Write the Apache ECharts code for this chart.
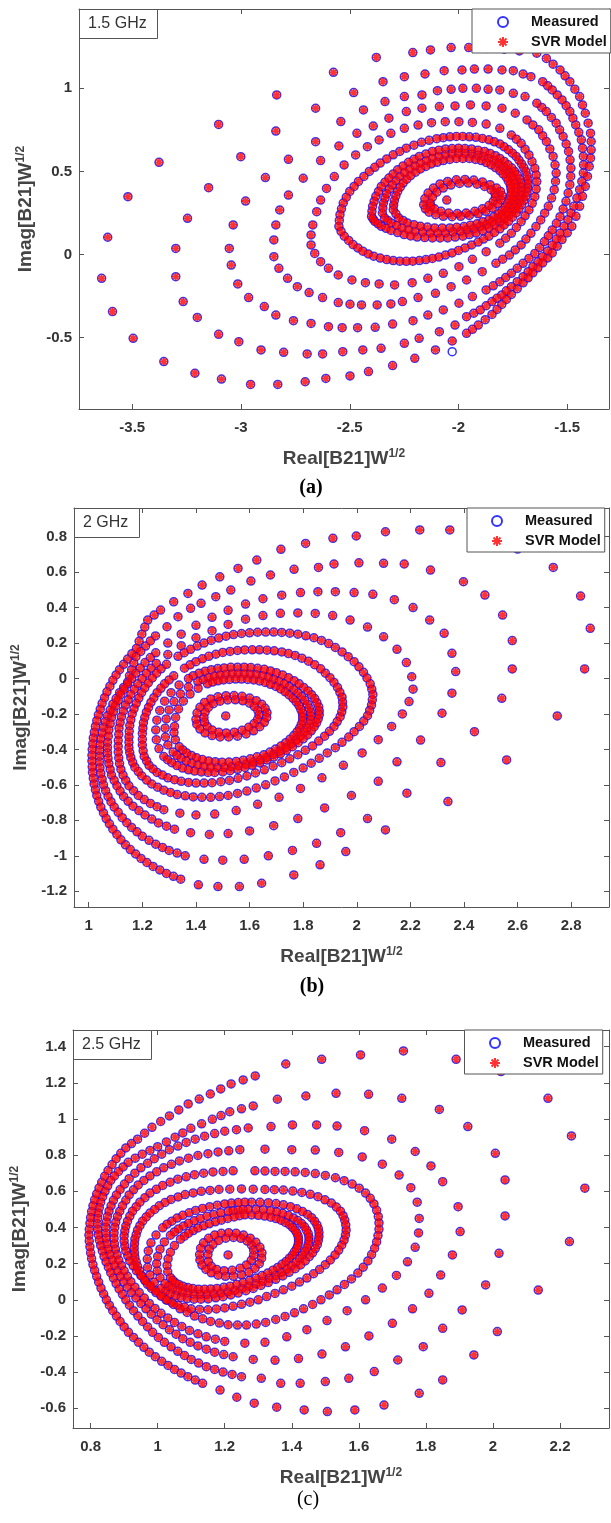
<!DOCTYPE html>
<html>
<head>
<meta charset="utf-8">
<script src="https://cdn.jsdelivr.net/npm/echarts@6.0.0/dist/echarts.min.js"></script>
<style>
  html, body { margin: 0; padding: 0; background: #fff; }
  #chart { width: 611px; height: 1523px; }
</style>
</head>
<body>
<div id="chart"></div>
<script>
// ---------- tick labels ----------
const xTicksA = [-3.5, -3, -2.5, -2, -1.5];
const yTicksA = [-0.5, 0, 0.5, 1];
const xTicksB = [1, 1.2, 1.4, 1.6, 1.8, 2, 2.2, 2.4, 2.6, 2.8];
const yTicksB = [-1.2, -1, -0.8, -0.6, -0.4, -0.2, 0, 0.2, 0.4, 0.6, 0.8];
const xTicksC = [0.8, 1, 1.2, 1.4, 1.6, 1.8, 2, 2.2];
const yTicksC = [-0.6, -0.4, -0.2, 0, 0.2, 0.4, 0.6, 0.8, 1, 1.2, 1.4];

// ---------- (a) 1.5 GHz, points read ring by ring ----------
const ringA1 = [[-2.029,-0.52],[-2.106,-0.574],[-2.201,-0.624],[-2.303,-0.668],[-2.414,-0.704],[-2.499,-0.73],[-2.61,-0.745],[-2.705,-0.765],[-2.831,-0.781],[-2.956,-0.781],[-3.09,-0.749],[-3.212,-0.714],[-3.355,-0.644],[-3.496,-0.504],[-3.591,-0.343],[-3.641,-0.143],[-3.613,0.104],[-3.52,0.348],[-3.377,0.555],[-3.103,0.783],[-2.836,0.96],[-2.575,1.096],[-2.378,1.186],[-2.21,1.215],[-2.129,1.231],[-2.034,1.245],[-1.953,1.245],[-1.87,1.24],[-1.79,1.235],[-1.72,1.225],[-1.64,1.211],[-1.596,1.18],[-1.533,1.11],[-1.488,1.04],[-1.443,0.95],[-1.417,0.85],[-1.393,0.73],[-1.39,0.63],[-1.399,0.53],[-1.417,0.41],[-1.443,0.29],[-1.479,0.17],[-1.524,0.09],[-1.569,0.01],[-1.613,-0.05],[-1.658,-0.11],[-1.703,-0.17],[-1.757,-0.24],[-1.801,-0.3],[-1.846,-0.36],[-1.909,-0.424],[-1.963,-0.474]];
const ringA1More = [[-1.565,1.145],[-1.51,1.075],[-1.465,0.995],[-1.43,0.9],[-1.404,0.79],[-1.39,0.68],[-1.393,0.58],[-1.407,0.47],[-1.43,0.35],[-1.46,0.23],[-1.5,0.13],[-1.546,0.05],[-1.59,-0.02],[-1.635,-0.08],[-1.68,-0.14],[-1.73,-0.205],[-1.78,-0.27],[-1.823,-0.33],[-1.877,-0.392],[-1.936,-0.45]];
const ringA2 = [[-3.266,-0.283],[-3.3,-0.133],[-3.3,0.037],[-3.246,0.218],[-3.149,0.402],[-3.001,0.589],[-2.84,0.743],[-2.657,0.88],[-2.482,0.974],[-2.347,1.04],[-2.249,1.07],[-2.154,1.086],[-2.066,1.106],[-1.984,1.11],[-1.927,1.116],[-1.864,1.116],[-1.8,1.11],[-1.748,1.106],[-1.703,1.086],[-1.667,1.07],[-1.613,1.04],[-1.569,0.99],[-1.524,0.93],[-1.488,0.86],[-1.461,0.78],[-1.435,0.69],[-1.426,0.59],[-1.426,0.49],[-1.443,0.39],[-1.47,0.29],[-1.497,0.21],[-1.533,0.128],[-1.569,0.058],[-1.613,-0.013],[-1.658,-0.073],[-1.703,-0.133],[-1.757,-0.193],[-1.801,-0.243],[-1.846,-0.283],[-1.9,-0.333],[-1.963,-0.374],[-2.016,-0.424],[-2.088,-0.464],[-2.181,-0.504],[-2.249,-0.534],[-2.356,-0.564],[-2.44,-0.574],[-2.532,-0.584],[-2.625,-0.598],[-2.696,-0.598],[-2.804,-0.588],[-2.908,-0.574],[-3.01,-0.524],[-3.103,-0.48],[-3.201,-0.378]];
const ringA2More = [[-1.59,1.015],[-1.546,0.96],[-1.505,0.895],[-1.474,0.82],[-1.447,0.735],[-1.43,0.64],[-1.425,0.54],[-1.433,0.44],[-1.456,0.34],[-1.483,0.25],[-1.515,0.17],[-1.55,0.093],[-1.59,0.022],[-1.635,-0.043],[-1.68,-0.103],[-1.73,-0.163],[-1.78,-0.218],[-1.823,-0.263],[-1.873,-0.308],[-1.93,-0.353]];
const ringA3 = [[-3.054,0.037],[-3.036,0.178],[-2.979,0.322],[-2.888,0.463],[-2.782,0.573],[-2.657,0.679],[-2.541,0.8],[-2.437,0.87],[-2.338,0.92],[-2.249,0.95],[-2.168,0.96],[-2.097,0.986],[-2.034,0.994],[-1.98,1.0],[-1.918,1.0],[-1.864,0.994],[-1.81,0.99],[-1.748,0.97],[-1.694,0.95],[-1.64,0.91],[-1.596,0.86],[-1.551,0.79],[-1.519,0.71],[-1.494,0.62],[-1.483,0.52],[-1.488,0.42],[-1.506,0.32],[-1.533,0.228],[-1.569,0.148],[-1.605,0.078],[-1.649,0.007],[-1.703,-0.053],[-1.757,-0.113],[-1.81,-0.163],[-1.873,-0.213],[-1.936,-0.253],[-1.998,-0.293],[-2.07,-0.333],[-2.141,-0.364],[-2.209,-0.398],[-2.303,-0.418],[-2.383,-0.438],[-2.464,-0.44],[-2.535,-0.44],[-2.598,-0.434],[-2.678,-0.414],[-2.759,-0.398],[-2.84,-0.364],[-2.893,-0.313],[-2.965,-0.259],[-3.015,-0.177],[-3.045,-0.063]];
const ringA3More = [[-1.617,0.885],[-1.573,0.825],[-1.535,0.75],[-1.505,0.665],[-1.487,0.57],[-1.484,0.47],[-1.496,0.37],[-1.519,0.274],[-1.55,0.188],[-1.587,0.113],[-1.627,0.042],[-1.676,-0.023],[-1.73,-0.083],[-1.783,-0.138],[-1.84,-0.188]];
const ringA4 = [[-2.849,-0.013],[-2.849,0.088],[-2.84,0.178],[-2.822,0.268],[-2.782,0.358],[-2.714,0.459],[-2.634,0.565],[-2.55,0.653],[-2.467,0.729],[-2.392,0.773],[-2.32,0.82],[-2.24,0.86],[-2.168,0.88],[-2.088,0.89],[-2.016,0.894],[-1.945,0.9],[-1.873,0.894],[-1.8,0.88],[-1.739,0.85],[-1.685,0.81],[-1.631,0.75],[-1.596,0.68],[-1.565,0.59],[-1.551,0.49],[-1.56,0.39],[-1.587,0.29],[-1.622,0.208],[-1.667,0.128],[-1.712,0.058],[-1.766,-0.003],[-1.828,-0.053],[-1.891,-0.103],[-1.963,-0.153],[-2.034,-0.193],[-2.106,-0.233],[-2.186,-0.259],[-2.258,-0.283],[-2.311,-0.297],[-2.374,-0.303],[-2.446,-0.303],[-2.499,-0.299],[-2.553,-0.289],[-2.625,-0.259],[-2.687,-0.229],[-2.741,-0.193],[-2.786,-0.143],[-2.826,-0.083]];
const ringA4More = [[-1.658,0.78],[-1.613,0.715],[-1.58,0.635],[-1.556,0.54],[-1.554,0.44],[-1.572,0.34],[-1.604,0.249],[-1.644,0.168],[-1.69,0.093],[-1.739,0.028],[-1.797,-0.028]];
const ringA5 = [[-2.678,0.058],[-2.678,0.118],[-2.67,0.178],[-2.652,0.258],[-2.634,0.328],[-2.607,0.398],[-2.571,0.469],[-2.526,0.539],[-2.473,0.599],[-2.419,0.649],[-2.365,0.689],[-2.311,0.729],[-2.249,0.759],[-2.186,0.779],[-2.124,0.793],[-2.061,0.799],[-1.998,0.799],[-1.936,0.795],[-1.873,0.785],[-1.81,0.759],[-1.757,0.719],[-1.712,0.669],[-1.676,0.599],[-1.649,0.519],[-1.64,0.439],[-1.649,0.348],[-1.676,0.268],[-1.712,0.198],[-1.757,0.128],[-1.81,0.068],[-1.873,0.017],[-1.936,-0.029],[-1.998,-0.073],[-2.07,-0.113],[-2.141,-0.143],[-2.213,-0.169],[-2.294,-0.183],[-2.365,-0.177],[-2.428,-0.169],[-2.49,-0.153],[-2.553,-0.123],[-2.598,-0.083],[-2.634,-0.043],[-2.661,0.007]];
const ringA5More = [[-1.734,0.694],[-1.694,0.634],[-1.662,0.559],[-1.643,0.479],[-1.643,0.394],[-1.661,0.308],[-1.694,0.233],[-1.734,0.163],[-1.783,0.098]];
const ringA6 = [[-2.55,0.17],[-2.545,0.24],[-2.53,0.31],[-2.5,0.38],[-2.46,0.44],[-2.41,0.5],[-2.36,0.55],[-2.3,0.6],[-2.24,0.64],[-2.17,0.675],[-2.1,0.697],[-2.04,0.708],[-1.98,0.71],[-1.92,0.705],[-1.86,0.69],[-1.81,0.665],[-1.77,0.63],[-1.735,0.59],[-1.71,0.545],[-1.69,0.5],[-1.68,0.45],[-1.682,0.4],[-1.69,0.35],[-1.71,0.3],[-1.735,0.25],[-1.77,0.2],[-1.81,0.155],[-1.86,0.11],[-1.91,0.075],[-1.97,0.04],[-2.03,0.01],[-2.09,-0.015],[-2.15,-0.03],[-2.21,-0.04],[-2.27,-0.04],[-2.33,-0.03],[-2.39,-0.01],[-2.44,0.02],[-2.485,0.06],[-2.525,0.11]];
const ringA6More = [[-2.548,0.205],[-2.538,0.275],[-2.516,0.345],[-2.48,0.41],[-2.435,0.47],[-2.385,0.525],[-2.33,0.575],[-2.27,0.62],[-2.205,0.658],[-2.135,0.687],[-2.07,0.703],[-2.01,0.71],[-1.95,0.708],[-1.89,0.698],[-1.835,0.678],[-1.79,0.648],[-1.752,0.61],[-1.722,0.568],[-1.7,0.523],[-1.685,0.475],[-1.68,0.425],[-1.685,0.375],[-1.7,0.325],[-1.722,0.275],[-1.752,0.225],[-1.79,0.178],[-1.835,0.133],[-1.885,0.093],[-1.94,0.058],[-2.0,0.025],[-2.06,-0.003],[-2.12,-0.023],[-2.18,-0.036],[-2.24,-0.041],[-2.3,-0.036],[-2.36,-0.021],[-2.415,0.004],[-2.463,0.04],[-2.505,0.085],[-2.54,0.14]];
const ringA7 = [[-2.4,0.23],[-2.395,0.29],[-2.38,0.35],[-2.355,0.41],[-2.32,0.46],[-2.28,0.51],[-2.23,0.555],[-2.18,0.59],[-2.12,0.62],[-2.06,0.635],[-2.0,0.64],[-1.94,0.635],[-1.88,0.62],[-1.83,0.595],[-1.79,0.56],[-1.755,0.52],[-1.73,0.48],[-1.712,0.43],[-1.71,0.38],[-1.72,0.33],[-1.74,0.28],[-1.77,0.235],[-1.81,0.195],[-1.86,0.16],[-1.92,0.13],[-1.98,0.11],[-2.05,0.1],[-2.12,0.1],[-2.19,0.105],[-2.25,0.12],[-2.31,0.145],[-2.355,0.17],[-2.385,0.2]];
const ringA7More = [[-2.398,0.26],[-2.388,0.32],[-2.368,0.38],[-2.338,0.435],[-2.3,0.485],[-2.255,0.533],[-2.205,0.573],[-2.15,0.605],[-2.09,0.628],[-2.03,0.638],[-1.97,0.638],[-1.91,0.628],[-1.855,0.608],[-1.81,0.578],[-1.772,0.54],[-1.742,0.5],[-1.72,0.455],[-1.71,0.405],[-1.714,0.355],[-1.73,0.305],[-1.755,0.258],[-1.79,0.215],[-1.835,0.178],[-1.89,0.145],[-1.95,0.12],[-2.015,0.105],[-2.085,0.1],[-2.155,0.102],[-2.22,0.112],[-2.28,0.132],[-2.333,0.158],[-2.37,0.185],[-2.393,0.215]];
const ringA8 = [[-2.35,0.25],[-2.345,0.31],[-2.33,0.365],[-2.305,0.42],[-2.27,0.47],[-2.225,0.515],[-2.175,0.55],[-2.12,0.58],[-2.06,0.6],[-2.0,0.61],[-1.94,0.605],[-1.885,0.59],[-1.835,0.565],[-1.795,0.53],[-1.765,0.49],[-1.745,0.45],[-1.735,0.4],[-1.74,0.35],[-1.755,0.3],[-1.78,0.255],[-1.82,0.215],[-1.87,0.18],[-1.93,0.155],[-1.99,0.14],[-2.06,0.13],[-2.13,0.13],[-2.2,0.14],[-2.26,0.16],[-2.31,0.19],[-2.34,0.22]];
const ringA8More = [[-2.348,0.28],[-2.338,0.338],[-2.318,0.393],[-2.288,0.445],[-2.248,0.493],[-2.2,0.533],[-2.148,0.565],[-2.09,0.59],[-2.03,0.605],[-1.97,0.608],[-1.912,0.598],[-1.86,0.578],[-1.815,0.548],[-1.78,0.51],[-1.755,0.47],[-1.74,0.425],[-1.737,0.375],[-1.747,0.325],[-1.767,0.278],[-1.8,0.235],[-1.845,0.198],[-1.9,0.168],[-1.96,0.148],[-2.025,0.135],[-2.095,0.13],[-2.165,0.135],[-2.23,0.15],[-2.285,0.175],[-2.325,0.205]];
const ringA9 = [[-2.3,0.27],[-2.295,0.325],[-2.28,0.38],[-2.255,0.43],[-2.22,0.475],[-2.175,0.515],[-2.125,0.545],[-2.07,0.565],[-2.01,0.578],[-1.95,0.578],[-1.895,0.565],[-1.85,0.54],[-1.81,0.505],[-1.78,0.465],[-1.762,0.42],[-1.757,0.375],[-1.765,0.33],[-1.785,0.285],[-1.815,0.245],[-1.86,0.21],[-1.915,0.185],[-1.975,0.168],[-2.04,0.16],[-2.11,0.16],[-2.175,0.17],[-2.235,0.19],[-2.275,0.22]];
const ringA9More = [[-2.298,0.298],[-2.288,0.353],[-2.268,0.405],[-2.238,0.453],[-2.198,0.495],[-2.15,0.53],[-2.098,0.555],[-2.04,0.572],[-1.98,0.578],[-1.922,0.572],[-1.872,0.553],[-1.83,0.523],[-1.795,0.485],[-1.771,0.443],[-1.759,0.398],[-1.761,0.353],[-1.775,0.308],[-1.8,0.265],[-1.838,0.228],[-1.888,0.198],[-1.945,0.177],[-2.008,0.164],[-2.075,0.16],[-2.143,0.165],[-2.205,0.18],[-2.255,0.205],[-2.288,0.245]];
const ringA10 = [[-2.16,0.3],[-2.155,0.335],[-2.14,0.37],[-2.115,0.4],[-2.085,0.425],[-2.05,0.44],[-2.01,0.45],[-1.97,0.452],[-1.93,0.448],[-1.89,0.437],[-1.855,0.42],[-1.825,0.4],[-1.807,0.38],[-1.8,0.355],[-1.805,0.33],[-1.82,0.305],[-1.845,0.28],[-1.875,0.26],[-1.91,0.245],[-1.95,0.235],[-1.99,0.23],[-2.03,0.228],[-2.07,0.23],[-2.105,0.24],[-2.135,0.255],[-2.152,0.275]];
const ringA11 = [[-2.13,0.31],[-2.12,0.345],[-2.1,0.375],[-2.07,0.4],[-2.035,0.418],[-1.995,0.428],[-1.955,0.43],[-1.915,0.423],[-1.88,0.41],[-1.85,0.39],[-1.833,0.37],[-1.83,0.345],[-1.84,0.32],[-1.86,0.295],[-1.89,0.275],[-1.925,0.26],[-1.965,0.25],[-2.005,0.247],[-2.045,0.25],[-2.08,0.26],[-2.11,0.275],[-2.127,0.29]];
const centerA = [[-2.054,0.328]];
const measuredOnlyA = [[-2.029,-0.584]];

// ---------- (b) 2 GHz ----------
const ringB1 = [[1.717,0.729],[1.809,0.762],[1.911,0.791],[1.998,0.804],[2.107,0.828],[2.235,0.838],[2.347,0.838],[2.47,0.8],[2.6,0.73],[2.733,0.627],[2.835,0.465],[2.871,0.283],[2.85,0.054],[2.748,-0.211],[2.559,-0.459],[2.34,-0.694],[2.107,-0.854],[1.959,-0.976],[1.863,-1.051],[1.765,-1.108],[1.645,-1.155],[1.562,-1.174],[1.482,-1.174],[1.409,-1.164],[1.343,-1.132],[1.29,-1.1],[1.24,-1.06],[1.195,-1.015],[1.155,-0.965],[1.12,-0.91],[1.09,-0.85],[1.065,-0.79],[1.045,-0.725],[1.03,-0.66],[1.02,-0.595],[1.014,-0.53],[1.012,-0.465],[1.013,-0.4],[1.017,-0.335],[1.025,-0.27],[1.036,-0.205],[1.05,-0.14],[1.068,-0.075],[1.09,-0.01],[1.115,0.05],[1.145,0.11],[1.178,0.17],[1.198,0.25],[1.22,0.33],[1.268,0.386],[1.317,0.433],[1.37,0.48],[1.423,0.527],[1.489,0.574],[1.557,0.621],[1.627,0.668]];
const ringB1More = [[1.316,-1.116],[1.265,-1.08],[1.217,-1.038],[1.175,-0.99],[1.137,-0.938],[1.105,-0.88],[1.077,-0.82],[1.055,-0.758],[1.037,-0.693],[1.025,-0.628],[1.017,-0.563],[1.013,-0.498],[1.012,-0.433],[1.015,-0.368],[1.021,-0.303],[1.03,-0.238],[1.043,-0.173],[1.059,-0.108],[1.079,-0.043],[1.102,0.02],[1.13,0.08],[1.161,0.14],[1.188,0.21],[1.209,0.29],[1.244,0.358]];
const ringB2 = [[1.766,0.616],[1.857,0.627],[1.915,0.646],[2.008,0.653],[2.1,0.65],[2.177,0.646],[2.275,0.612],[2.398,0.546],[2.478,0.471],[2.544,0.358],[2.58,0.214],[2.58,0.054],[2.541,-0.112],[2.439,-0.3],[2.314,-0.474],[2.187,-0.647],[2.04,-0.79],[1.94,-0.87],[1.85,-0.93],[1.76,-0.97],[1.67,-1.0],[1.58,-1.02],[1.5,-1.025],[1.43,-1.02],[1.36,-1.0],[1.3,-0.97],[1.25,-0.935],[1.2,-0.89],[1.16,-0.84],[1.125,-0.785],[1.095,-0.725],[1.072,-0.665],[1.055,-0.6],[1.045,-0.535],[1.04,-0.47],[1.04,-0.405],[1.045,-0.34],[1.055,-0.275],[1.07,-0.21],[1.09,-0.145],[1.115,-0.08],[1.145,-0.02],[1.16,0.05],[1.176,0.123],[1.212,0.183],[1.249,0.24],[1.292,0.292],[1.333,0.349],[1.38,0.396],[1.419,0.424],[1.474,0.462],[1.53,0.499],[1.605,0.55],[1.678,0.584]];
const ringB2More = [[1.33,-0.985],[1.275,-0.953],[1.225,-0.913],[1.18,-0.865],[1.142,-0.813],[1.11,-0.755],[1.083,-0.695],[1.063,-0.633],[1.05,-0.568],[1.042,-0.503],[1.04,-0.438],[1.042,-0.373],[1.05,-0.308],[1.062,-0.243],[1.08,-0.178],[1.102,-0.113],[1.13,-0.05],[1.152,0.015],[1.168,0.087],[1.194,0.153],[1.23,0.212]];
const ringB3 = [[1.07,-0.36],[1.075,-0.29],[1.085,-0.22],[1.1,-0.155],[1.12,-0.09],[1.145,-0.03],[1.175,0.03],[1.21,0.09],[1.25,0.145],[1.295,0.2],[1.345,0.25],[1.4,0.3],[1.46,0.345],[1.52,0.385],[1.585,0.42],[1.65,0.45],[1.72,0.47],[1.79,0.485],[1.855,0.49],[1.92,0.49],[1.99,0.485],[2.06,0.475],[2.14,0.445],[2.21,0.4],[2.272,0.33],[2.326,0.255],[2.355,0.142],[2.369,0.039],[2.355,-0.083],[2.318,-0.196],[2.238,-0.347],[2.15,-0.47],[2.08,-0.58],[1.98,-0.66],[1.88,-0.73],[1.78,-0.79],[1.69,-0.83],[1.6,-0.86],[1.52,-0.875],[1.45,-0.88],[1.38,-0.87],[1.32,-0.85],[1.26,-0.815],[1.21,-0.77],[1.165,-0.72],[1.13,-0.665],[1.105,-0.605],[1.085,-0.545],[1.075,-0.48],[1.07,-0.42]];
const ringB3More = [[1.073,-0.325],[1.08,-0.255],[1.092,-0.188],[1.11,-0.123],[1.132,-0.06],[1.16,0.0],[1.192,0.06],[1.23,0.118],[1.29,-0.833],[1.235,-0.793],[1.187,-0.745],[1.147,-0.693],[1.117,-0.635],[1.095,-0.575],[1.08,-0.513],[1.072,-0.45],[1.07,-0.39]];
const ringB4 = [[1.11,-0.35],[1.113,-0.28],[1.122,-0.215],[1.137,-0.15],[1.157,-0.09],[1.183,-0.03],[1.215,0.03],[1.252,0.085],[1.295,0.135],[1.345,0.185],[1.4,0.23],[1.46,0.27],[1.52,0.305],[1.585,0.335],[1.65,0.355],[1.715,0.368],[1.78,0.37],[1.845,0.367],[1.91,0.355],[1.975,0.33],[2.04,0.29],[2.1,0.235],[2.15,0.165],[2.185,0.09],[2.205,0.01],[2.21,-0.06],[2.195,-0.13],[2.17,-0.2],[2.13,-0.27],[2.08,-0.345],[2.02,-0.42],[1.95,-0.49],[1.87,-0.56],[1.79,-0.62],[1.71,-0.67],[1.63,-0.71],[1.55,-0.745],[1.47,-0.765],[1.4,-0.77],[1.34,-0.76],[1.28,-0.74],[1.23,-0.705],[1.185,-0.66],[1.15,-0.605],[1.128,-0.545],[1.115,-0.48],[1.11,-0.415]];
const ringB4More = [[1.112,-0.315],[1.117,-0.248],[1.129,-0.183],[1.147,-0.12],[1.17,-0.06],[1.199,0.0],[1.233,0.058],[1.255,-0.723],[1.207,-0.683],[1.167,-0.633],[1.138,-0.575],[1.12,-0.513],[1.112,-0.448],[1.11,-0.383]];
const ringB5 = [[1.15,-0.33],[1.153,-0.265],[1.162,-0.2],[1.177,-0.14],[1.197,-0.08],[1.222,-0.025],[1.253,0.03],[1.29,0.08],[1.333,0.125],[1.38,0.165],[1.43,0.2],[1.485,0.228],[1.54,0.248],[1.6,0.258],[1.66,0.262],[1.72,0.26],[1.78,0.25],[1.84,0.23],[1.895,0.197],[1.945,0.15],[1.99,0.095],[2.025,0.035],[2.05,-0.03],[2.06,-0.09],[2.055,-0.15],[2.04,-0.21],[2.01,-0.27],[1.97,-0.33],[1.92,-0.39],[1.86,-0.45],[1.8,-0.505],[1.73,-0.555],[1.66,-0.6],[1.59,-0.635],[1.52,-0.66],[1.455,-0.67],[1.39,-0.668],[1.33,-0.655],[1.28,-0.63],[1.235,-0.595],[1.198,-0.55],[1.172,-0.5],[1.157,-0.445],[1.15,-0.39]];
const ringB5More = [[1.151,-0.298],[1.157,-0.233],[1.169,-0.17],[1.187,-0.11],[1.209,-0.053],[1.237,0.003],[1.27,0.055],[1.257,-0.613],[1.216,-0.573],[1.185,-0.525],[1.164,-0.473],[1.153,-0.418],[1.15,-0.36],[1.356,0.146],[1.405,0.183],[1.457,0.215],[1.512,0.239],[1.57,0.254],[1.63,0.261],[1.69,0.262],[1.75,0.256],[1.81,0.241],[1.868,0.215],[1.92,0.175],[1.968,0.123],[2.008,0.066],[2.038,0.003],[2.056,-0.06],[2.058,-0.12],[2.048,-0.18],[2.026,-0.24],[1.99,-0.3],[1.945,-0.36],[1.89,-0.42],[1.83,-0.478],[1.765,-0.53],[1.695,-0.578],[1.625,-0.618],[1.555,-0.648],[1.488,-0.666],[1.422,-0.67],[1.36,-0.662],[1.305,-0.643]];
const ringB6 = [[1.2,-0.31],[1.204,-0.25],[1.215,-0.19],[1.232,-0.135],[1.255,-0.08],[1.283,-0.03],[1.317,0.015],[1.357,0.058],[1.4,0.095],[1.448,0.125],[1.5,0.147],[1.555,0.158],[1.61,0.162],[1.665,0.16],[1.72,0.15],[1.77,0.13],[1.82,0.098],[1.865,0.055],[1.9,0.005],[1.928,-0.05],[1.945,-0.105],[1.948,-0.16],[1.938,-0.215],[1.915,-0.27],[1.88,-0.325],[1.835,-0.38],[1.78,-0.43],[1.72,-0.475],[1.655,-0.515],[1.59,-0.55],[1.525,-0.575],[1.46,-0.588],[1.4,-0.59],[1.345,-0.58],[1.295,-0.56],[1.255,-0.53],[1.225,-0.49],[1.207,-0.44],[1.2,-0.375]];
const ringB6More = [[1.202,-0.28],[1.209,-0.22],[1.223,-0.163],[1.243,-0.108],[1.269,-0.055],[1.3,-0.008],[1.275,-0.545],[1.24,-0.51],[1.216,-0.465],[1.203,-0.408],[1.2,-0.343],[1.378,0.077],[1.424,0.111],[1.474,0.137],[1.527,0.153],[1.582,0.161],[1.637,0.162],[1.692,0.156],[1.745,0.141],[1.795,0.115],[1.843,0.078],[1.883,0.03],[1.915,-0.022],[1.937,-0.078],[1.947,-0.133],[1.944,-0.188],[1.927,-0.243],[1.898,-0.298],[1.858,-0.353],[1.808,-0.405],[1.75,-0.453],[1.688,-0.495],[1.622,-0.533],[1.557,-0.563],[1.493,-0.582],[1.43,-0.59],[1.372,-0.586],[1.32,-0.571]];
const ringB7 = [[1.25,-0.29],[1.254,-0.235],[1.265,-0.18],[1.283,-0.128],[1.307,-0.08],[1.337,-0.037],[1.372,0.0],[1.412,0.03],[1.457,0.05],[1.505,0.06],[1.555,0.064],[1.605,0.062],[1.655,0.052],[1.7,0.033],[1.745,0.005],[1.785,-0.03],[1.818,-0.07],[1.843,-0.113],[1.858,-0.16],[1.86,-0.205],[1.85,-0.25],[1.83,-0.295],[1.8,-0.34],[1.76,-0.385],[1.715,-0.425],[1.665,-0.46],[1.61,-0.49],[1.555,-0.512],[1.5,-0.527],[1.445,-0.53],[1.395,-0.522],[1.35,-0.505],[1.31,-0.475],[1.28,-0.44],[1.262,-0.395],[1.252,-0.345]];
const ringB7More = [[1.39,0.016],[1.434,0.041],[1.481,0.056],[1.53,0.063],[1.58,0.064],[1.63,0.058],[1.678,0.043],[1.723,0.02],[1.766,-0.012],[1.802,-0.05],[1.831,-0.091],[1.851,-0.136],[1.86,-0.182],[1.856,-0.228],[1.841,-0.272],[1.816,-0.318],[1.781,-0.362],[1.738,-0.405],[1.69,-0.443],[1.638,-0.476],[1.583,-0.502],[1.527,-0.52],[1.47,-0.53],[1.42,-0.527],[1.372,-0.515],[1.329,-0.491],[1.294,-0.458]];
const ringB8 = [[1.285,-0.28],[1.289,-0.228],[1.3,-0.177],[1.318,-0.13],[1.342,-0.087],[1.372,-0.048],[1.407,-0.017],[1.447,0.006],[1.49,0.02],[1.535,0.027],[1.58,0.027],[1.625,0.022],[1.67,0.008],[1.71,-0.015],[1.748,-0.045],[1.78,-0.082],[1.806,-0.123],[1.823,-0.168],[1.83,-0.212],[1.823,-0.257],[1.803,-0.302],[1.773,-0.347],[1.735,-0.39],[1.69,-0.428],[1.64,-0.46],[1.587,-0.484],[1.533,-0.498],[1.48,-0.502],[1.43,-0.495],[1.385,-0.477],[1.345,-0.45],[1.315,-0.415],[1.295,-0.375],[1.286,-0.33]];
const ringB8More = [[1.427,-0.006],[1.468,0.014],[1.512,0.024],[1.557,0.028],[1.602,0.025],[1.648,0.016],[1.69,-0.003],[1.73,-0.03],[1.765,-0.063],[1.794,-0.102],[1.816,-0.145],[1.828,-0.19],[1.828,-0.235],[1.814,-0.28],[1.789,-0.325],[1.755,-0.369],[1.713,-0.41],[1.665,-0.445],[1.614,-0.473],[1.56,-0.492],[1.506,-0.501],[1.455,-0.5],[1.407,-0.487],[1.364,-0.465],[1.329,-0.433]];
const ringB9 = [[1.32,-0.27],[1.324,-0.22],[1.335,-0.172],[1.353,-0.128],[1.378,-0.088],[1.408,-0.055],[1.443,-0.03],[1.482,-0.013],[1.525,-0.005],[1.57,-0.003],[1.615,-0.008],[1.658,-0.022],[1.698,-0.045],[1.733,-0.075],[1.762,-0.112],[1.784,-0.152],[1.797,-0.195],[1.798,-0.238],[1.787,-0.28],[1.765,-0.322],[1.735,-0.362],[1.697,-0.398],[1.653,-0.43],[1.603,-0.453],[1.55,-0.468],[1.497,-0.472],[1.447,-0.465],[1.402,-0.447],[1.365,-0.42],[1.338,-0.385],[1.323,-0.345],[1.318,-0.305]];
const ringB9More = [[1.462,-0.02],[1.503,-0.008],[1.548,-0.003],[1.593,-0.005],[1.637,-0.014],[1.678,-0.033],[1.716,-0.059],[1.748,-0.093],[1.774,-0.132],[1.791,-0.174],[1.798,-0.217],[1.793,-0.259],[1.777,-0.301],[1.751,-0.342],[1.717,-0.381],[1.676,-0.415],[1.628,-0.442],[1.577,-0.461],[1.523,-0.471],[1.472,-0.469],[1.424,-0.457],[1.383,-0.434],[1.351,-0.403]];
const ringB10 = [[1.4,-0.23],[1.404,-0.195],[1.415,-0.162],[1.432,-0.135],[1.455,-0.115],[1.482,-0.103],[1.512,-0.097],[1.542,-0.096],[1.572,-0.1],[1.6,-0.11],[1.625,-0.125],[1.645,-0.145],[1.658,-0.168],[1.665,-0.193],[1.664,-0.22],[1.655,-0.247],[1.638,-0.272],[1.615,-0.295],[1.587,-0.313],[1.555,-0.325],[1.522,-0.33],[1.49,-0.33],[1.46,-0.322],[1.434,-0.307],[1.415,-0.285],[1.403,-0.258]];
const ringB11 = [[1.43,-0.22],[1.434,-0.19],[1.446,-0.163],[1.465,-0.142],[1.49,-0.128],[1.518,-0.121],[1.547,-0.12],[1.575,-0.126],[1.6,-0.139],[1.618,-0.158],[1.631,-0.18],[1.635,-0.205],[1.63,-0.23],[1.617,-0.254],[1.597,-0.275],[1.572,-0.292],[1.543,-0.303],[1.513,-0.307],[1.485,-0.303],[1.46,-0.29],[1.442,-0.27],[1.432,-0.246]];
const centerB = [[1.511,-0.211]];

// ---------- (c) 2.5 GHz ----------
const ringC1 = [[1.382,1.304],[1.489,1.33],[1.605,1.354],[1.733,1.376],[1.89,1.33],[2.024,1.262],[2.164,1.114],[2.234,0.906],[2.274,0.617],[2.228,0.322],[2.135,0.054],[2.013,-0.176],[1.943,-0.305],[1.85,-0.443],[1.78,-0.517],[1.675,-0.582],[1.588,-0.609],[1.506,-0.618],[1.437,-0.609],[1.355,-0.594],[1.288,-0.572],[1.236,-0.539],[1.186,-0.499],[1.134,-0.462],[1.09,-0.425],[1.05,-0.385],[1.012,-0.34],[0.975,-0.29],[0.943,-0.235],[0.913,-0.18],[0.888,-0.12],[0.866,-0.06],[0.847,0.0],[0.831,0.065],[0.818,0.13],[0.807,0.195],[0.8,0.26],[0.796,0.325],[0.796,0.39],[0.8,0.455],[0.807,0.52],[0.818,0.585],[0.833,0.65],[0.852,0.715],[0.876,0.78],[0.905,0.84],[0.94,0.888],[0.983,0.954],[1.035,1.017],[1.091,1.083],[1.157,1.138],[1.219,1.194],[1.291,1.238]];
const ringC1More = [[1.112,-0.444],[1.07,-0.405],[1.031,-0.363],[0.993,-0.315],[0.959,-0.263],[0.928,-0.208],[0.9,-0.15],[0.877,-0.09],[0.856,-0.03],[0.839,0.032],[0.824,0.098],[0.812,0.163],[0.803,0.228],[0.798,0.293],[0.795,0.358],[0.798,0.423],[0.803,0.488],[0.812,0.553],[0.825,0.618],[0.842,0.683],[0.864,0.748],[0.89,0.81],[0.922,0.864],[0.961,0.921],[1.009,0.986],[1.063,1.05],[1.124,1.11],[1.188,1.166],[1.255,1.216]];
const ringC2 = [[1.285,1.072],[1.357,1.109],[1.442,1.127],[1.532,1.142],[1.629,1.136],[1.728,1.114],[1.84,1.053],[1.925,0.958],[2.007,0.81],[2.036,0.663],[2.036,0.464],[2.018,0.257],[1.978,0.082],[1.908,-0.056],[1.85,-0.158],[1.792,-0.259],[1.716,-0.333],[1.646,-0.397],[1.57,-0.434],[1.5,-0.452],[1.425,-0.462],[1.367,-0.462],[1.309,-0.434],[1.25,-0.425],[1.195,-0.4],[1.145,-0.37],[1.1,-0.33],[1.06,-0.285],[1.02,-0.235],[0.985,-0.18],[0.955,-0.12],[0.928,-0.06],[0.905,0.0],[0.885,0.06],[0.868,0.12],[0.853,0.18],[0.84,0.24],[0.83,0.3],[0.823,0.36],[0.82,0.42],[0.823,0.48],[0.83,0.54],[0.843,0.6],[0.86,0.66],[0.883,0.71],[0.912,0.76],[0.954,0.805],[1.0,0.847],[1.052,0.899],[1.099,0.948],[1.163,0.998],[1.215,1.04]];
const ringC2More = [[1.222,-0.413],[1.17,-0.385],[1.122,-0.35],[1.08,-0.308],[1.04,-0.26],[1.002,-0.208],[0.97,-0.15],[0.941,-0.09],[0.916,-0.03],[0.895,0.03],[0.876,0.09],[0.86,0.15],[0.846,0.21],[0.835,0.27],[0.826,0.33],[0.821,0.39],[0.821,0.45],[0.826,0.51],[0.836,0.57],[0.851,0.63],[0.871,0.685],[0.897,0.735],[0.933,0.783],[0.977,0.826],[1.026,0.873],[1.075,0.923],[1.131,0.973],[1.189,1.019],[1.25,1.056]];
const ringC3 = [[1.338,0.958],[1.402,0.967],[1.474,0.967],[1.535,0.961],[1.617,0.935],[1.698,0.888],[1.768,0.82],[1.815,0.74],[1.85,0.653],[1.896,0.515],[1.902,0.377],[1.879,0.248],[1.844,0.137],[1.809,0.036],[1.76,-0.05],[1.7,-0.13],[1.63,-0.2],[1.56,-0.26],[1.49,-0.3],[1.42,-0.325],[1.35,-0.335],[1.285,-0.33],[1.225,-0.315],[1.17,-0.29],[1.12,-0.255],[1.075,-0.215],[1.035,-0.165],[0.998,-0.11],[0.965,-0.05],[0.935,0.01],[0.91,0.07],[0.889,0.13],[0.872,0.19],[0.858,0.25],[0.849,0.31],[0.845,0.37],[0.847,0.43],[0.855,0.49],[0.868,0.55],[0.888,0.61],[0.915,0.67],[0.95,0.73],[0.99,0.78],[1.035,0.83],[1.085,0.87],[1.14,0.905],[1.2,0.932],[1.27,0.95]];
const ringC3More = [[1.197,-0.303],[1.145,-0.273],[1.097,-0.235],[1.055,-0.19],[1.016,-0.138],[0.981,-0.08],[0.95,-0.02],[0.922,0.04],[0.899,0.1],[0.88,0.16],[0.865,0.22],[0.853,0.28],[0.846,0.34],[0.845,0.4],[0.85,0.46],[0.861,0.52],[0.877,0.58],[0.901,0.64],[0.932,0.7],[0.97,0.755],[1.012,0.805],[1.06,0.85],[1.112,0.888],[1.17,0.919],[1.235,0.941]];
const ringC4 = [[1.4,0.83],[1.47,0.828],[1.54,0.815],[1.61,0.79],[1.67,0.75],[1.72,0.69],[1.755,0.62],[1.774,0.54],[1.78,0.45],[1.778,0.37],[1.768,0.29],[1.745,0.21],[1.712,0.135],[1.67,0.065],[1.62,0.0],[1.565,-0.06],[1.505,-0.115],[1.445,-0.165],[1.385,-0.205],[1.32,-0.235],[1.26,-0.24],[1.2,-0.23],[1.145,-0.205],[1.095,-0.17],[1.05,-0.125],[1.01,-0.075],[0.975,-0.02],[0.945,0.04],[0.92,0.1],[0.9,0.16],[0.884,0.22],[0.874,0.28],[0.87,0.34],[0.872,0.4],[0.88,0.46],[0.895,0.52],[0.915,0.58],[0.942,0.635],[0.977,0.685],[1.018,0.73],[1.065,0.768],[1.12,0.798],[1.18,0.818],[1.245,0.83],[1.32,0.833]];
const ringC4More = [[1.172,-0.218],[1.12,-0.188],[1.072,-0.148],[1.03,-0.1],[0.992,-0.048],[0.96,0.01],[0.932,0.07],[0.91,0.13],[0.892,0.19],[0.879,0.25],[0.871,0.31],[0.87,0.37],[0.875,0.43],[0.887,0.49],[0.905,0.55],[0.928,0.608],[0.959,0.66],[0.997,0.708],[1.041,0.749],[1.092,0.783],[1.15,0.808],[1.212,0.824]];
const ringC5 = [[1.35,0.71],[1.41,0.708],[1.47,0.698],[1.53,0.675],[1.58,0.64],[1.62,0.59],[1.645,0.53],[1.658,0.46],[1.66,0.39],[1.653,0.32],[1.638,0.25],[1.613,0.18],[1.578,0.115],[1.535,0.055],[1.487,0.0],[1.435,-0.05],[1.38,-0.092],[1.322,-0.125],[1.265,-0.14],[1.21,-0.138],[1.158,-0.12],[1.11,-0.09],[1.067,-0.05],[1.028,-0.002],[0.994,0.05],[0.963,0.105],[0.937,0.16],[0.917,0.215],[0.905,0.27],[0.9,0.325],[0.902,0.38],[0.91,0.435],[0.925,0.49],[0.947,0.54],[0.977,0.59],[1.015,0.632],[1.06,0.667],[1.11,0.692],[1.165,0.707],[1.225,0.713],[1.29,0.713]];
const ringC5More = [[1.184,-0.129],[1.134,-0.105],[1.088,-0.07],[1.047,-0.026],[1.011,0.024],[0.978,0.078],[0.95,0.133],[0.927,0.188],[0.911,0.243],[0.902,0.298],[0.9,0.353],[0.905,0.408],[0.917,0.463],[0.936,0.515],[0.962,0.565],[0.996,0.611],[1.037,0.65],[1.085,0.68],[1.137,0.7],[1.195,0.71],[1.38,0.71],[1.44,0.704],[1.5,0.688],[1.556,0.659],[1.601,0.617],[1.634,0.561],[1.653,0.495],[1.66,0.425],[1.657,0.355],[1.647,0.285],[1.627,0.215],[1.597,0.148],[1.557,0.085],[1.512,0.027],[1.462,-0.026],[1.408,-0.072],[1.352,-0.109],[1.294,-0.134],[1.238,-0.14],[1.32,0.712]];
const ringC6 = [[1.32,0.61],[1.375,0.607],[1.43,0.594],[1.478,0.57],[1.518,0.535],[1.545,0.49],[1.558,0.44],[1.562,0.385],[1.556,0.33],[1.54,0.275],[1.515,0.22],[1.483,0.168],[1.445,0.12],[1.4,0.075],[1.35,0.035],[1.3,0.0],[1.25,-0.025],[1.2,-0.045],[1.15,-0.055],[1.1,-0.05],[1.06,-0.03],[1.025,0.0],[0.995,0.04],[0.97,0.085],[0.952,0.135],[0.94,0.185],[0.932,0.235],[0.93,0.285],[0.932,0.335],[0.94,0.385],[0.955,0.435],[0.977,0.48],[1.005,0.52],[1.04,0.555],[1.082,0.582],[1.13,0.6],[1.183,0.61],[1.25,0.613]];
const ringC6More = [[1.125,-0.053],[1.08,-0.04],[1.042,-0.015],[1.01,0.02],[0.982,0.063],[0.961,0.11],[0.946,0.16],[0.936,0.21],[0.931,0.26],[0.931,0.31],[0.936,0.36],[0.947,0.41],[0.966,0.458],[0.991,0.5],[1.022,0.538],[1.061,0.569],[1.106,0.591],[1.156,0.605],[1.215,0.612],[1.348,0.609],[1.403,0.601],[1.455,0.583],[1.499,0.553],[1.533,0.513],[1.553,0.465],[1.561,0.413],[1.56,0.358],[1.549,0.303],[1.529,0.248],[1.5,0.194],[1.465,0.144],[1.423,0.098],[1.375,0.055],[1.325,0.018],[1.275,-0.013],[1.225,-0.036],[1.175,-0.051],[1.285,0.612]];
const ringC7 = [[1.28,0.54],[1.33,0.537],[1.375,0.525],[1.415,0.503],[1.447,0.472],[1.468,0.435],[1.479,0.393],[1.481,0.35],[1.476,0.305],[1.462,0.26],[1.44,0.215],[1.41,0.172],[1.373,0.132],[1.33,0.095],[1.285,0.063],[1.24,0.037],[1.195,0.017],[1.15,0.005],[1.108,0.003],[1.07,0.013],[1.037,0.033],[1.01,0.062],[0.99,0.097],[0.977,0.137],[0.97,0.18],[0.969,0.225],[0.972,0.27],[0.98,0.315],[0.995,0.358],[1.015,0.398],[1.042,0.435],[1.075,0.467],[1.113,0.494],[1.155,0.515],[1.2,0.53],[1.24,0.538]];
const ringC7More = [[1.305,0.539],[1.353,0.532],[1.396,0.515],[1.432,0.488],[1.459,0.454],[1.475,0.414],[1.481,0.372],[1.479,0.328],[1.47,0.283],[1.452,0.238],[1.426,0.193],[1.392,0.152],[1.352,0.113],[1.308,0.079],[1.263,0.05],[1.218,0.027],[1.173,0.011],[1.129,0.003],[1.088,0.007],[1.053,0.022],[1.023,0.047],[1.26,0.54],[1.22,0.535],[1.178,0.523],[1.134,0.505],[1.094,0.481],[1.058,0.452],[1.028,0.418]];
const ringC8 = [[1.27,0.5],[1.315,0.497],[1.355,0.486],[1.39,0.466],[1.418,0.438],[1.438,0.404],[1.449,0.366],[1.451,0.327],[1.445,0.287],[1.432,0.247],[1.412,0.207],[1.385,0.17],[1.352,0.135],[1.313,0.103],[1.272,0.075],[1.23,0.052],[1.188,0.037],[1.147,0.03],[1.108,0.032],[1.074,0.043],[1.045,0.063],[1.022,0.09],[1.007,0.123],[0.999,0.16],[0.997,0.2],[1.0,0.24],[1.007,0.28],[1.02,0.32],[1.038,0.357],[1.062,0.392],[1.092,0.423],[1.127,0.45],[1.167,0.472],[1.21,0.488],[1.24,0.496]];
const ringC8More = [[1.293,0.499],[1.336,0.492],[1.373,0.477],[1.405,0.453],[1.429,0.422],[1.444,0.385],[1.451,0.347],[1.449,0.307],[1.439,0.267],[1.423,0.227],[1.399,0.189],[1.369,0.152],[1.333,0.119],[1.293,0.089],[1.251,0.063],[1.209,0.044],[1.167,0.033],[1.127,0.03],[1.09,0.037],[1.059,0.052],[1.033,0.076],[1.255,0.499],[1.225,0.493],[1.188,0.481],[1.147,0.462],[1.109,0.437],[1.077,0.408],[1.05,0.375]];
const ringC9 = [[1.26,0.47],[1.3,0.467],[1.337,0.457],[1.368,0.44],[1.393,0.415],[1.41,0.385],[1.419,0.352],[1.42,0.317],[1.414,0.282],[1.402,0.247],[1.383,0.212],[1.358,0.179],[1.328,0.148],[1.293,0.12],[1.255,0.095],[1.216,0.075],[1.177,0.063],[1.14,0.058],[1.105,0.062],[1.075,0.075],[1.052,0.095],[1.038,0.122],[1.03,0.155],[1.028,0.19],[1.031,0.227],[1.038,0.263],[1.05,0.3],[1.068,0.335],[1.092,0.368],[1.12,0.397],[1.154,0.42],[1.19,0.44],[1.228,0.458]];
const ringC9More = [[1.28,0.469],[1.319,0.463],[1.353,0.449],[1.381,0.428],[1.402,0.4],[1.415,0.369],[1.42,0.335],[1.418,0.3],[1.408,0.265],[1.393,0.23],[1.371,0.196],[1.344,0.164],[1.311,0.134],[1.274,0.107],[1.236,0.085],[1.197,0.069],[1.158,0.06],[1.122,0.059],[1.09,0.068],[1.063,0.085],[1.045,0.108],[1.244,0.465],[1.209,0.45],[1.172,0.431],[1.137,0.409],[1.106,0.383],[1.08,0.352]];
const ringC10 = [[1.125,0.25],[1.128,0.285],[1.137,0.315],[1.152,0.34],[1.17,0.358],[1.19,0.368],[1.212,0.371],[1.234,0.368],[1.256,0.358],[1.276,0.341],[1.293,0.318],[1.305,0.29],[1.311,0.26],[1.31,0.23],[1.303,0.2],[1.29,0.173],[1.272,0.152],[1.25,0.138],[1.226,0.13],[1.202,0.13],[1.18,0.136],[1.16,0.149],[1.144,0.168],[1.132,0.192],[1.126,0.22]];
const ringC11 = [[1.15,0.25],[1.154,0.28],[1.165,0.307],[1.182,0.328],[1.203,0.341],[1.226,0.345],[1.248,0.34],[1.267,0.325],[1.28,0.302],[1.286,0.275],[1.286,0.246],[1.279,0.218],[1.265,0.193],[1.246,0.175],[1.222,0.163],[1.198,0.161],[1.176,0.168],[1.16,0.185],[1.151,0.212]];
const centerC = [[1.21,0.248]];

// the model points sit on the measured ones at this reading precision
const ringsA = [].concat(ringA1, ringA1More, ringA2, ringA2More, ringA3, ringA3More, ringA4, ringA4More, ringA5, ringA5More,
    ringA6, ringA6More, ringA7, ringA7More, ringA8, ringA8More, ringA9, ringA9More, ringA10, ringA11, centerA);
const ringsB = [].concat(ringB1, ringB1More, ringB2, ringB2More, ringB3, ringB3More, ringB4, ringB4More, ringB5, ringB5More,
    ringB6, ringB6More, ringB7, ringB7More, ringB8, ringB8More, ringB9, ringB9More, ringB10, ringB11, centerB);
const ringsC = [].concat(ringC1, ringC1More, ringC2, ringC2More, ringC3, ringC3More, ringC4, ringC4More, ringC5, ringC5More,
    ringC6, ringC6More, ringC7, ringC7More, ringC8, ringC8More, ringC9, ringC9More, ringC10, ringC11, centerC);

const FONT = '"Liberation Sans", Arial, sans-serif';
const AXIS_COLOR = '#555';
const TEXT_COLOR = '#333';
const STAR = 'path://M5,0L5,10M0,5L10,5M1.5,1.5L8.5,8.5M1.5,8.5L8.5,1.5';

const panels = [
    {
        grid: { left: 79, top: 9, width: 530, height: 400 },
        xRange: [-3.745, -1.308], yRange: [-0.929, 1.477],
        xTicks: xTicksA, yTicks: yTicksA,
        measured: ringsA.concat(measuredOnlyA), svr: ringsA,
        freq: '1.5 GHz', freqPos: { left: 79, top: 9 },
        legendPos: { left: 472, top: 9, padding: [5, 4, 3, 25] },
        caption: { text: '(a)', x: 311, y: 488, font: 'bold 20px "Liberation Serif", serif' }
    },
    {
        grid: { left: 74, top: 508, width: 535, height: 399 },
        xRange: [0.945, 2.941], yRange: [-1.289, 0.962],
        xTicks: xTicksB, yTicks: yTicksB,
        measured: ringsB, svr: ringsB,
        freq: '2 GHz', freqPos: { left: 74, top: 508 },
        legendPos: { left: 467, top: 508, padding: [5, 4, 3, 24] },
        caption: { text: '(b)', x: 312, y: 987, font: 'bold 20px "Liberation Serif", serif' }
    },
    {
        grid: { left: 73, top: 1030, width: 536, height: 398 },
        xRange: [0.7475, 2.346], yRange: [-0.709, 1.492],
        xTicks: xTicksC, yTicks: yTicksC,
        measured: ringsC, svr: ringsC,
        freq: '2.5 GHz', freqPos: { left: 73, top: 1030 },
        legendPos: { left: 464.5, top: 1030, padding: [5, 4, 3, 24.5] },
        caption: { text: '(c)', x: 308, y: 1500, font: '20px "Liberation Serif", serif' }
    }
];

const nameRich = {
    t: { fontFamily: FONT, fontWeight: 'bold', fontSize: 19, color: '#444', lineHeight: 22 },
    s: { fontFamily: FONT, fontWeight: 'bold', fontSize: 12, color: '#444', lineHeight: 12, verticalAlign: 'top' }
};

function makeAxis(gridIndex, range, ticks, position, withLabels) {
    return {
        type: 'value',
        gridIndex: gridIndex,
        position: position,
        min: range[0],
        max: range[1],
        axisLine: { show: true, onZero: false, lineStyle: { color: AXIS_COLOR, width: 1 } },
        axisTick: { show: true, inside: true, length: 5, customValues: ticks, lineStyle: { color: AXIS_COLOR } },
        axisLabel: {
            show: withLabels,
            customValues: ticks,
            color: TEXT_COLOR,
            fontFamily: FONT,
            fontWeight: 'bold',
            fontSize: 15,
            margin: (position === 'bottom') ? 11 : 7
        },
        splitLine: { show: false }
    };
}

const grids = [], xAxes = [], yAxes = [], series = [], titles = [], legends = [], graphics = [];

panels.forEach((p, i) => {
    grids.push(Object.assign({ containLabel: false }, p.grid));

    const xb = makeAxis(i, p.xRange, p.xTicks, 'bottom', true);
    xb.name = '{t|Real[B21]W}{s|1/2}';
    xb.nameLocation = 'middle';
    xb.nameGap = 39;
    xb.nameTextStyle = { rich: nameRich };
    xAxes.push(xb, makeAxis(i, p.xRange, p.xTicks, 'top', false));

    const yl = makeAxis(i, p.yRange, p.yTicks, 'left', true);
    yl.name = '{t|Imag[B21]W}{s|1/2}';
    yl.nameLocation = 'middle';
    yl.nameGap = 38;
    yl.nameTextStyle = { rich: nameRich };
    yAxes.push(yl, makeAxis(i, p.yRange, p.yTicks, 'right', false));

    series.push({
        type: 'scatter',
        name: 'Measured',
        xAxisIndex: i * 2,
        yAxisIndex: i * 2,
        data: p.measured,
        symbol: 'circle',
        symbolSize: 8,
        itemStyle: { color: 'rgba(0,0,0,0)', borderColor: '#0000ff', borderWidth: 1.5 },
        silent: true
    }, {
        type: 'scatter',
        name: 'SVR Model',
        xAxisIndex: i * 2,
        yAxisIndex: i * 2,
        data: p.svr,
        symbol: STAR,
        symbolSize: 8,
        itemStyle: { color: '#ff0000', borderColor: '#ff0000', borderWidth: 1.8 },
        silent: true
    });

    // frequency box in the upper-left corner
    titles.push({
        text: p.freq,
        left: p.freqPos.left,
        top: p.freqPos.top,
        padding: [7, 11, 7, 9],
        borderWidth: 1,
        borderColor: AXIS_COLOR,
        backgroundColor: '#fff',
        textStyle: { fontFamily: FONT, fontWeight: 'normal', fontSize: 16, color: TEXT_COLOR }
    });

    legends.push({
        orient: 'vertical',
        left: p.legendPos.left,
        top: p.legendPos.top,
        padding: p.legendPos.padding,
        itemWidth: 46,
        itemHeight: 10,
        itemGap: 4,
        borderColor: AXIS_COLOR,
        borderWidth: 1,
        backgroundColor: '#fff',
        selectedMode: false,
        data: ['Measured', 'SVR Model'],
        textStyle: { fontFamily: FONT, fontWeight: 'bold', fontSize: 14.5, color: '#111', lineHeight: 16 }
    });

    graphics.push({
        type: 'text',
        x: p.caption.x,
        y: p.caption.y,
        style: { text: p.caption.text, font: p.caption.font, fill: '#000', align: 'center', verticalAlign: 'middle' }
    });
});

const chart = echarts.init(document.getElementById('chart'), null, { renderer: 'canvas' });
chart.setOption({
    animation: false,
    backgroundColor: '#fff',
    grid: grids,
    xAxis: xAxes,
    yAxis: yAxes,
    title: titles,
    legend: legends,
    graphic: graphics,
    series: series
});

window.addEventListener('resize', function () {
    chart.resize();
});
</script>
</body>
</html>
